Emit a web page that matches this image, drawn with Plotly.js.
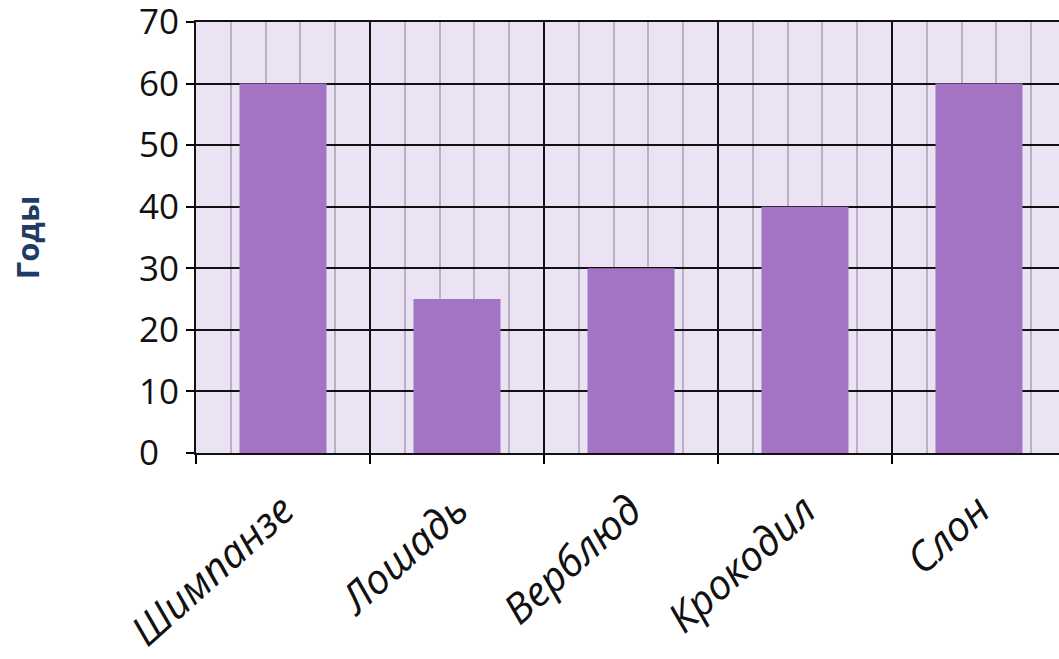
<!DOCTYPE html>
<html>
<head>
<meta charset="utf-8">
<script src="https://cdn.plot.ly/plotly-3.0.1.min.js"></script>
<style>html,body{margin:0;padding:0;overflow:hidden;background:#fff;}</style>
</head>
<body>
<div id="chart" style="width:1059px;height:659px;"></div>
<script>
const categories = ["Шимпанзе", "Лошадь", "Верблюд", "Крокодил", "Слон"];
const years = [60, 25, 30, 40, 60];
const positions = [0, 1, 2, 3, 4];
const yTickVals = [0, 10, 20, 30, 40, 50, 60, 70];
const yTickText = ["0\u2007", "10", "20", "30", "40", "50", "60", "70"];
const yTitle = "Годы";

const xRange = [-0.5, 4.46];

const data = [{
  type: "bar",
  x: positions,
  y: years,
  xaxis: "x",
  yaxis: "y",
  width: 0.5,
  marker: {color: "#a374c4", line: {width: 0}},
  hoverinfo: "skip",
  showlegend: false
}, {
  type: "bar",
  x: [],
  y: [],
  xaxis: "x2",
  yaxis: "y",
  hoverinfo: "skip",
  showlegend: false
}];

const layout = {
  width: 1059,
  height: 659,
  margin: {l: 196, r: 0, t: 22, b: 206},
  paper_bgcolor: "#ffffff",
  plot_bgcolor: "#ebe3f3",
  showlegend: false,
  xaxis: {
    type: "linear",
    range: xRange,
    tickmode: "linear",
    tick0: -0.5,
    dtick: 1,
    showticklabels: false,
    ticks: "outside",
    ticklen: 9,
    tickwidth: 2,
    tickcolor: "#000",
    showgrid: true,
    gridcolor: "#111",
    gridwidth: 2,
    minor: {tick0: -0.5, dtick: 0.2, showgrid: true, gridcolor: "#bab1c4", gridwidth: 2, ticks: ""},
    showline: true,
    mirror: true,
    linecolor: "#111",
    linewidth: 2,
    zeroline: false,
    fixedrange: true
  },
  xaxis2: {
    overlaying: "x",
    anchor: "y",
    side: "bottom",
    type: "linear",
    range: xRange,
    tickmode: "array",
    tickvals: positions,
    ticktext: categories,
    tickangle: -42,
    ticks: "",
    ticklen: 0,
    ticklabelstandoff: 24,
    showgrid: false,
    showline: false,
    zeroline: false,
    tickfont: {family: "Open Sans, sans-serif", size: 41, color: "#111", style: "italic"},
    fixedrange: true
  },
  yaxis: {
    range: [0, 70],
    tickmode: "array",
    tickvals: yTickVals,
    ticktext: yTickText,
    ticks: "outside",
    ticklen: 8,
    tickwidth: 2,
    tickcolor: "#000",
    ticklabeloverflow: "allow",
    showgrid: true,
    gridcolor: "#111",
    gridwidth: 2,
    showline: true,
    linecolor: "#111",
    linewidth: 2,
    zeroline: false,
    tickfont: {family: "Open Sans, sans-serif", size: 35, color: "#111"},
    title: {text: yTitle, standoff: 90, font: {family: "Open Sans, sans-serif", size: 31, color: "#1f3b66", weight: "bold"}},
    fixedrange: true
  }
};

Plotly.newPlot("chart", data, layout, {displayModeBar: false, staticPlot: true});
</script>
</body>
</html>
